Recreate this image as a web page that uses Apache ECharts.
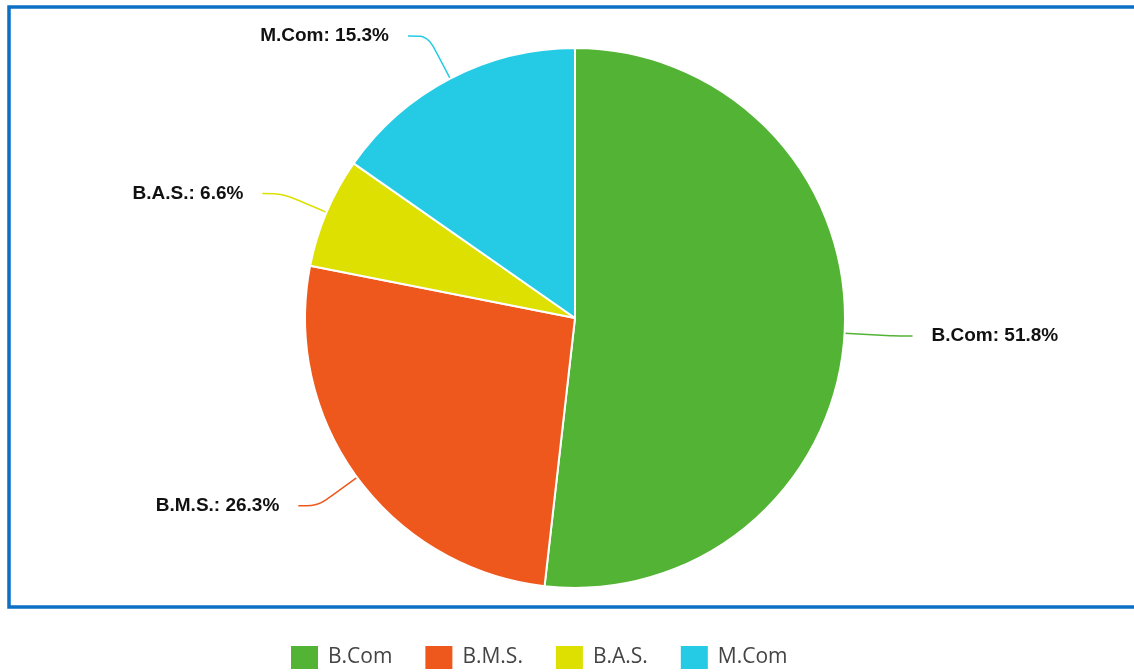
<!DOCTYPE html>
<html>
<head>
<meta charset="utf-8">
<script src="https://cdn.jsdelivr.net/npm/echarts@6/dist/echarts.min.js"></script>
<style>
  html, body { margin: 0; padding: 0; background: #fff; }
  #main { width: 1134px; height: 672px; }
</style>
</head>
<body>
<div id="main"></div>
<script>
// course split (percent)
const courses = ['B.Com', 'B.M.S.', 'B.A.S.', 'M.Com'];
const shares = [51.8, 26.3, 6.6, 15.3];
const colors = ['#53b335', '#ee581c', '#dde000', '#25cbe5'];

const chart = echarts.init(document.getElementById('main'));

const option = {
  animation: false,
  color: colors,
  graphic: [
    {
      type: 'rect',
      z: -1,
      shape: { x: 9, y: 7, width: 1140, height: 600 },
      style: { fill: 'none', stroke: '#0b6fc4', lineWidth: 3.5 }
    }
  ],
  legend: {
    left: 284,
    top: 639,
    icon: 'rect',
    itemWidth: 29,
    itemHeight: 25,
    itemGap: 31,
    data: courses,
    textStyle: {
      fontFamily: 'Open Sans',
      fontSize: 21,
      color: '#444',
      padding: [0, 0, 0, 4]
    }
  },
  series: [
    {
      type: 'pie',
      center: [575, 318],
      radius: 270,
      startAngle: 90,
      itemStyle: { borderColor: '#fff', borderWidth: 2 },
      label: {
        show: true,
        formatter: '{b}: {d}%',
        fontFamily: 'Liberation Sans',
        fontWeight: 'bold',
        fontSize: 19,
        color: '#111',
        distanceToLabelLine: 19
      },
      labelLine: {
        show: true,
        length: 48,
        length2: 20,
        smooth: true,
        lineStyle: { width: 1.5 }
      },
      data: courses.map((c, i) => ({ name: c, value: shares[i] }))
    }
  ]
};

chart.setOption(option);
</script>
</body>
</html>
